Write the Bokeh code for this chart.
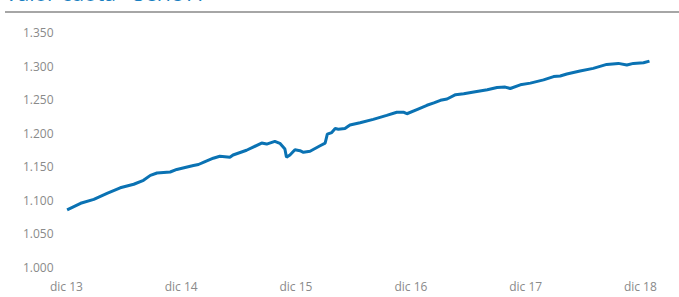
from datetime import datetime
from bokeh.plotting import figure
from bokeh.models import FixedTicker, Range1d, Div
from bokeh.layouts import column
from bokeh.embed import file_html
from bokeh.resources import INLINE

title = "Valor cuota - Serie A"

dates = ["2013-12-03", "2014-01-15", "2014-02-26", "2014-04-09", "2014-05-21",
         "2014-07-03", "2014-08-03", "2014-08-25", "2014-09-15", "2014-10-27",
         "2014-11-17", "2015-01-09", "2015-01-25", "2015-02-15", "2015-03-13",
         "2015-04-03", "2015-05-05", "2015-05-15", "2015-06-27", "2015-08-14",
         "2015-08-30", "2015-09-25", "2015-10-11", "2015-10-27", "2015-11-01",
         "2015-11-12", "2015-11-28", "2015-12-14", "2015-12-25", "2016-01-15",
         "2016-02-16", "2016-03-03", "2016-03-10", "2016-03-24", "2016-04-04",
         "2016-04-14", "2016-05-05", "2016-05-21", "2016-06-22", "2016-08-03",
         "2016-09-15", "2016-10-17", "2016-11-07", "2016-11-18", "2016-12-20",
         "2017-01-21", "2017-02-12", "2017-03-05", "2017-03-26", "2017-04-22",
         "2017-05-18", "2017-06-19", "2017-08-01", "2017-09-01", "2017-09-27",
         "2017-10-13", "2017-11-14", "2017-12-16", "2018-01-27", "2018-02-28",
         "2018-03-21", "2018-04-11", "2018-05-23", "2018-07-04", "2018-08-16",
         "2018-09-22", "2018-10-19", "2018-11-09", "2018-12-11", "2018-12-30"]
values = [1085.7, 1095.6, 1101.5, 1110.3, 1118.7,
          1124.0, 1129.9, 1137.2, 1140.7, 1142.2,
          1146.0, 1151.9, 1153.4, 1157.8, 1162.8,
          1165.7, 1164.3, 1167.6, 1174.6, 1185.3,
          1183.8, 1187.8, 1184.9, 1176.5, 1164.3,
          1167.6, 1175.4, 1174.0, 1171.6, 1173.1,
          1181.3, 1185.3, 1198.5, 1201.0, 1206.9,
          1205.9, 1206.9, 1212.2, 1215.7, 1220.6,
          1226.5, 1231.3, 1231.3, 1229.0, 1235.3,
          1241.6, 1245.1, 1249.0, 1251.0, 1257.4,
          1258.8, 1261.3, 1264.7, 1268.1, 1268.7,
          1266.6, 1272.1, 1274.6, 1279.4, 1284.3,
          1285.3, 1288.2, 1292.6, 1296.6, 1302.5,
          1304.0, 1301.5, 1304.0, 1304.9, 1307.4]

x_tick_dates = ["2013-12-01", "2014-12-01", "2015-12-01", "2016-12-01", "2017-12-01", "2018-12-01"]
x_tick_labels = ["dic 13", "dic 14", "dic 15", "dic 16", "dic 17", "dic 18"]
y_ticks = [1000, 1050, 1100, 1150, 1200, 1250, 1300, 1350]
y_tick_labels = ["1.000", "1.050", "1.100", "1.150", "1.200", "1.250", "1.300", "1.350"]


def ms(s):
    return datetime.strptime(s, "%Y-%m-%d").timestamp() * 1000.0


xs = [ms(d) for d in dates]
xt = [ms(d) for d in x_tick_dates]

day = 86400000.0
p = figure(width=674, height=284, output_backend="svg", toolbar_location=None,
           x_range=Range1d(xt[0] - 19 * day, xt[-1] + 80 * day),
           y_range=Range1d(1000, 1350),
           min_border_left=55, min_border_right=14, min_border_top=19, min_border_bottom=27,
           margin=(0, 0, 0, 5))
p.outline_line_color = None
p.background_fill_color = "white"
p.border_fill_color = "white"
p.xgrid.visible = False
p.ygrid.visible = False

p.line(xs, values, line_color="#0a72b3", line_width=3)

p.xaxis.ticker = FixedTicker(ticks=xt)
p.xaxis.major_label_overrides = {t: l for t, l in zip(xt, x_tick_labels)}
p.yaxis.ticker = FixedTicker(ticks=y_ticks)
p.yaxis.major_label_overrides = {t: l for t, l in zip(y_ticks, y_tick_labels)}

for ax in (p.xaxis[0], p.yaxis[0]):
    ax.axis_line_color = None
    ax.major_tick_line_color = None
    ax.minor_tick_line_color = None
    ax.major_tick_out = 0
    ax.major_tick_in = 0
    ax.minor_tick_out = 0
    ax.major_label_text_font = "Open Sans"
    ax.major_label_text_font_size = "12px"
    ax.major_label_text_color = "#8a8a8a"
p.xaxis.major_label_standoff = 10
p.yaxis.major_label_standoff = 7

head = Div(text=('<div style="font-family:\'Open Sans\';font-size:21px;line-height:24px;'
                 'color:#1a7fc1;padding:0 0 6px 0;border-bottom:2px solid #a6a6a6;'
                 'width:674px;white-space:nowrap;">' + title + '</div>'),
           width=674, margin=(-19, 0, 0, 5))

layout = column(head, p)

open("out.html", "w").write(file_html(layout, INLINE))
